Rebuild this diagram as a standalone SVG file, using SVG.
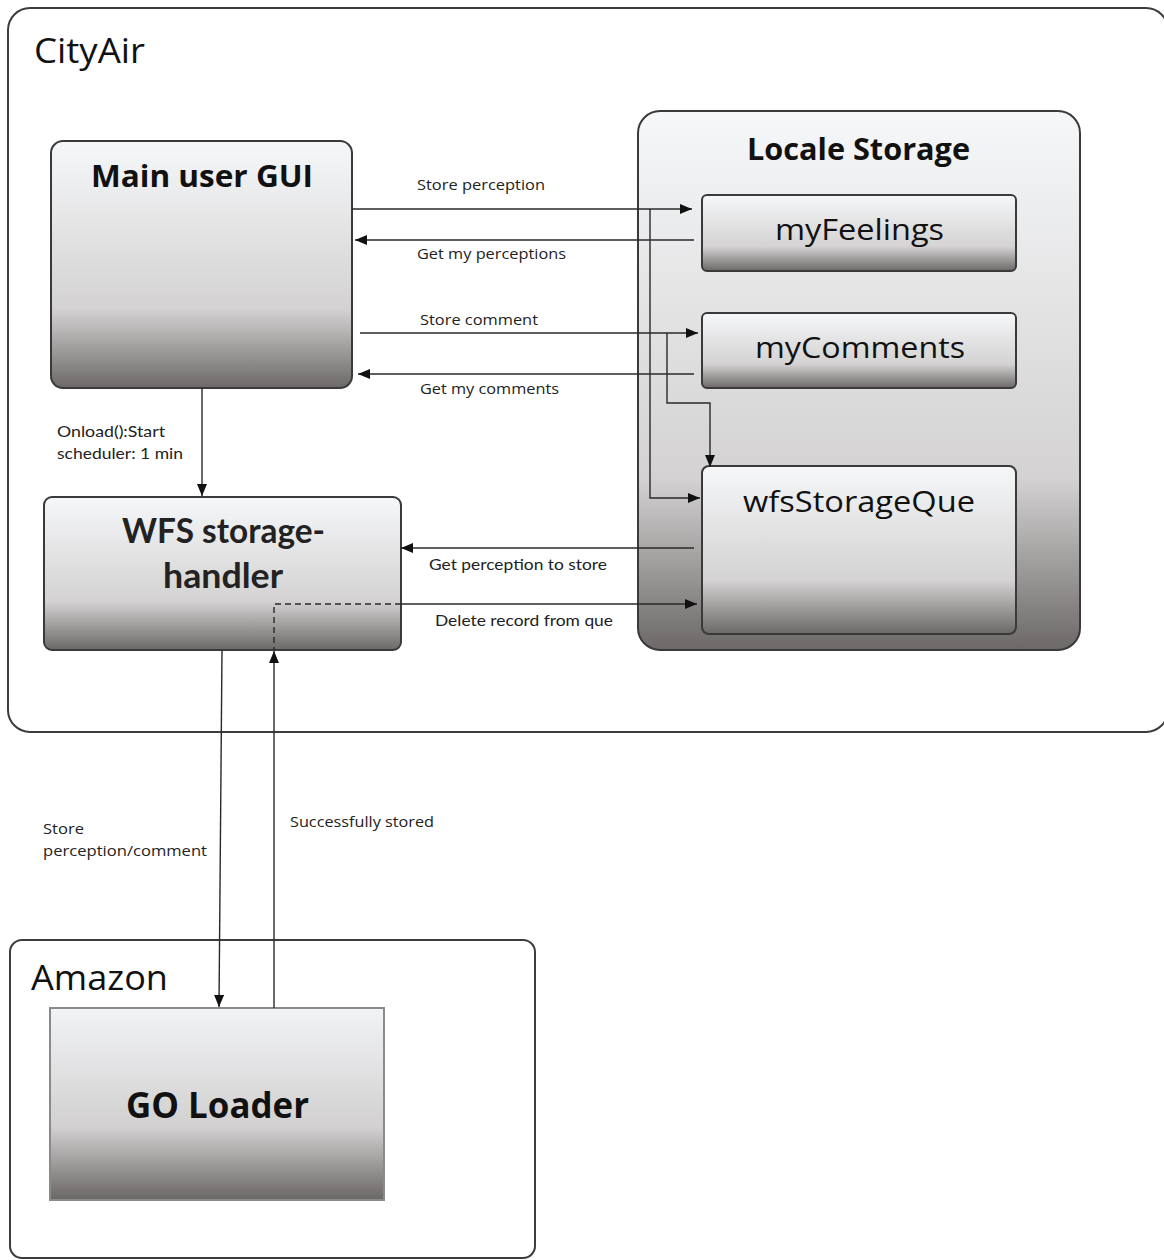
<svg xmlns="http://www.w3.org/2000/svg" width="1164" height="1260" viewBox="0 0 1164 1260">
<style>
.frame{fill:#ffffff;stroke:#3c3c3c;stroke-width:2}
.box{fill:url(#g);stroke:#3a3a3a;stroke-width:2}
.plain{fill:url(#g2);stroke:#8a8a8a;stroke-width:2}
.title{font-family:"Open Sans","Noto Sans",sans-serif;font-weight:bold;fill:#111}
.big{font-family:"Open Sans","Noto Sans",sans-serif;fill:#111}
.lbl{font-family:"Open Sans","Noto Sans",sans-serif;font-size:14px;fill:#222}
.cal{font-family:Lato,"Noto Sans",sans-serif;fill:#222}
.ln{fill:none;stroke:#2a2a2a;stroke-width:1.4}
.dash{fill:none;stroke:#2a2a2a;stroke-width:1.4;stroke-dasharray:6 4}
</style>
<defs>
<linearGradient id="g" x1="0" y1="0" x2="0" y2="1">
<stop offset="0" stop-color="#f5f7f9"/>
<stop offset="0.68" stop-color="#d4d2d2"/>
<stop offset="1" stop-color="#6c6868"/>
</linearGradient>
<linearGradient id="g2" x1="0" y1="0" x2="0" y2="1">
<stop offset="0" stop-color="#f1f3f6"/>
<stop offset="0.62" stop-color="#d2d0d0"/>
<stop offset="1" stop-color="#6a6666"/>
</linearGradient>
<marker id="ah" viewBox="0 0 12 10" refX="12" refY="5" markerWidth="12" markerHeight="10" markerUnits="userSpaceOnUse" orient="auto">
<path d="M0,0 L12,5 L0,10 z" fill="#111"/>
</marker>
</defs>

<g id="cityair">
<rect class="frame" x="8" y="8" width="1160" height="724" rx="22"/>
<text class="big" x="34" y="63" font-size="34" textLength="111" lengthAdjust="spacingAndGlyphs">CityAir</text>
</g>

<g id="amazon">
<rect class="frame" x="10" y="940" width="525" height="318" rx="12"/>
<text class="big" x="31" y="990" font-size="34" textLength="137" lengthAdjust="spacingAndGlyphs">Amazon</text>
</g>

<g id="main-gui">
<rect class="box" x="51" y="141" width="301" height="247" rx="12"/>
<text class="title" x="91" y="187" font-size="30" textLength="222" lengthAdjust="spacingAndGlyphs">Main user GUI</text>
</g>

<g id="locale-storage">
<rect class="box" x="638" y="111" width="442" height="539" rx="22"/>
<text class="title" x="747" y="160" font-size="30" textLength="223" lengthAdjust="spacingAndGlyphs">Locale Storage</text>
</g>

<g id="myfeelings">
<rect class="box" x="702" y="195" width="314" height="76" rx="5"/>
<text class="big" x="775" y="240" font-size="30" textLength="169" lengthAdjust="spacingAndGlyphs">myFeelings</text>
</g>

<g id="mycomments">
<rect class="box" x="702" y="313" width="314" height="75" rx="5"/>
<text class="big" x="755" y="358" font-size="30" textLength="210" lengthAdjust="spacingAndGlyphs">myComments</text>
</g>

<g id="wfsstorageque">
<rect class="box" x="702" y="466" width="314" height="168" rx="7"/>
<text class="big" x="743" y="512" font-size="30" textLength="232" lengthAdjust="spacingAndGlyphs">wfsStorageQue</text>
</g>

<g id="wfs-handler">
<rect class="box" x="44" y="497" width="357" height="153" rx="8"/>
<text class="cal" font-weight="bold" x="122" y="543" font-size="34" textLength="203" lengthAdjust="spacingAndGlyphs">WFS storage-</text>
<text class="cal" font-weight="bold" x="163" y="588" font-size="34" textLength="120" lengthAdjust="spacingAndGlyphs">handler</text>
</g>

<g id="go-loader">
<rect class="plain" x="50" y="1008" width="334" height="192"/>
<text class="title" x="126" y="1118" font-size="36" textLength="183" lengthAdjust="spacingAndGlyphs">GO Loader</text>
</g>

<g id="connectors">
<path class="ln" d="M352,209 H692" marker-end="url(#ah)"/>
<path class="ln" d="M650,209 V498 H700" marker-end="url(#ah)"/>
<path class="ln" d="M694,240 H355" marker-end="url(#ah)"/>
<path class="ln" d="M360,333 H698" marker-end="url(#ah)"/>
<path class="ln" d="M667,333 V403 H710 V467" marker-end="url(#ah)"/>
<path class="ln" d="M694,374 H358" marker-end="url(#ah)"/>
<path class="ln" d="M202,388 V496" marker-end="url(#ah)"/>
<path class="ln" d="M694,548 H401" marker-end="url(#ah)"/>
<path class="ln" d="M401,604 H697" marker-end="url(#ah)"/>
<path class="dash" d="M401,604 H274 V650"/>
<path class="ln" d="M222,650 L219,1007" marker-end="url(#ah)"/>
<path class="ln" d="M274,1008 V651" marker-end="url(#ah)"/>

<text class="lbl" x="417" y="190" textLength="128" lengthAdjust="spacingAndGlyphs">Store perception</text>
<text class="lbl" x="417" y="259" textLength="149" lengthAdjust="spacingAndGlyphs">Get my perceptions</text>
<text class="lbl" x="420" y="325" textLength="118" lengthAdjust="spacingAndGlyphs">Store comment</text>
<text class="lbl" x="420" y="394" textLength="139" lengthAdjust="spacingAndGlyphs">Get my comments</text>
<text class="cal" font-size="15" x="57" y="437" textLength="108" lengthAdjust="spacingAndGlyphs">Onload():Start</text>
<text class="cal" font-size="15" x="57" y="459" textLength="126" lengthAdjust="spacingAndGlyphs">scheduler: 1 min</text>
<text class="cal" font-size="16" x="429" y="570" textLength="178" lengthAdjust="spacingAndGlyphs">Get perception to store</text>
<text class="cal" font-size="16" x="435" y="626" textLength="178" lengthAdjust="spacingAndGlyphs">Delete record from que</text>
<text class="lbl" x="43" y="834" textLength="41" lengthAdjust="spacingAndGlyphs">Store</text>
<text class="lbl" x="43" y="856" textLength="164" lengthAdjust="spacingAndGlyphs">perception/comment</text>
<text class="lbl" x="290" y="827" textLength="144" lengthAdjust="spacingAndGlyphs">Successfully stored</text>
</g>
</svg>
